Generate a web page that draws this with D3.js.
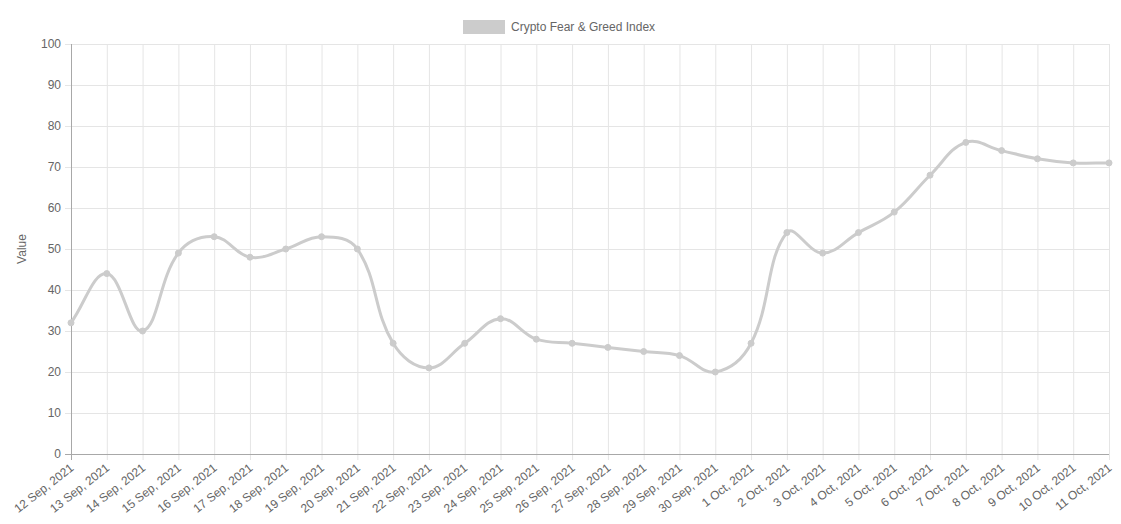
<!DOCTYPE html>
<html><head><meta charset="utf-8">
<script src="https://cdn.jsdelivr.net/npm/d3@7"></script>
<style>body{margin:0;background:#fff}svg{display:block}text{font-family:"Liberation Sans",Arial,Helvetica,sans-serif}</style>
</head><body>
<svg id="c" width="1121" height="524"></svg>
<script>
const dates = ["12 Sep, 2021","13 Sep, 2021","14 Sep, 2021","15 Sep, 2021","16 Sep, 2021","17 Sep, 2021","18 Sep, 2021","19 Sep, 2021","20 Sep, 2021","21 Sep, 2021","22 Sep, 2021","23 Sep, 2021","24 Sep, 2021","25 Sep, 2021","26 Sep, 2021","27 Sep, 2021","28 Sep, 2021","29 Sep, 2021","30 Sep, 2021","1 Oct, 2021","2 Oct, 2021","3 Oct, 2021","4 Oct, 2021","5 Oct, 2021","6 Oct, 2021","7 Oct, 2021","8 Oct, 2021","9 Oct, 2021","10 Oct, 2021","11 Oct, 2021"];
const values = [32,44,30,49,53,48,50,53,50,27,21,27,33,28,27,26,25,24,20,27,54,49,54,59,68,76,74,72,71,71];
const yTicks = [0,10,20,30,40,50,60,70,80,90,100];
const seriesName = "Crypto Fear & Greed Index";
const yTitle = "Value";

const svg = d3.select("#c");
const L = 71, R = 1109, T = 44, B = 454;
const x = d3.scalePoint().domain(dates).range([L, R]);
const y = d3.scaleLinear().domain([0, 100]).range([B, T]);
const grid = "#e5e5e5", axisC = "#a8a8a8", txt = "#666";

// vertical grid
svg.append("g").selectAll("line").data(dates).join("line")
  .attr("x1", d => x(d) + 0.5).attr("x2", d => x(d) + 0.5)
  .attr("y1", T).attr("y2", B + 6)
  .attr("stroke", (d, i) => i === 0 ? axisC : grid).attr("stroke-width", 1);
// horizontal grid
svg.append("g").selectAll("line").data(yTicks).join("line")
  .attr("x1", L - 6).attr("x2", R)
  .attr("y1", d => y(d) + 0.5).attr("y2", d => y(d) + 0.5)
  .attr("stroke", d => d === 0 ? axisC : grid).attr("stroke-width", 1);
// left axis line
svg.append("line").attr("x1", L + 0.5).attr("x2", L + 0.5).attr("y1", T).attr("y2", B + 6).attr("stroke", axisC);

// y labels
svg.append("g").selectAll("text").data(yTicks).join("text")
  .attr("x", L - 10).attr("y", d => y(d)).attr("dy", "0.35em")
  .attr("text-anchor", "end").attr("font-size", 12).attr("fill", txt).text(d => d);

// x labels
const ang = -38;
svg.append("g").selectAll("text").data(dates).join("text")
  .attr("transform", d => `translate(${x(d) + 1},${B + 12}) rotate(${ang})`)
  .attr("text-anchor", "end").attr("dy", "0.35em")
  .attr("font-size", 12).attr("fill", txt).text(d => d);

// y title
svg.append("text").attr("transform", `translate(26,${(T + B) / 2}) rotate(-90)`)
  .attr("text-anchor", "middle").attr("font-size", 12).attr("fill", txt).text(yTitle);

// legend
svg.append("rect").attr("x", 463).attr("y", 20).attr("width", 42).attr("height", 14).attr("fill", "#cccccc");
svg.append("text").attr("x", 511).attr("y", 27).attr("dy", "0.35em").attr("font-size", 12).attr("fill", txt).text(seriesName);

// Chart.js-like spline (tension 0.4)
const pts = values.map((v, i) => [x(dates[i]), y(v)]);
const t = 0.4;
const cps = pts.map((p, i) => {
  const prev = pts[Math.max(0, i - 1)], next = pts[Math.min(pts.length - 1, i + 1)];
  const d01 = Math.hypot(p[0] - prev[0], p[1] - prev[1]);
  const d12 = Math.hypot(next[0] - p[0], next[1] - p[1]);
  let s01 = d01 / (d01 + d12), s12 = d12 / (d01 + d12);
  if (isNaN(s01)) s01 = 0; if (isNaN(s12)) s12 = 0;
  const fa = t * s01, fb = t * s12;
  const cap = (v, lo, hi) => Math.max(lo, Math.min(hi, v));
  return {
    prev: [cap(p[0] - fa * (next[0] - prev[0]), L, R), cap(p[1] - fa * (next[1] - prev[1]), T, B)],
    next: [cap(p[0] + fb * (next[0] - prev[0]), L, R), cap(p[1] + fb * (next[1] - prev[1]), T, B)]
  };
});
const path = d3.path();
path.moveTo(pts[0][0], pts[0][1]);
for (let i = 1; i < pts.length; i++) {
  path.bezierCurveTo(cps[i - 1].next[0], cps[i - 1].next[1], cps[i].prev[0], cps[i].prev[1], pts[i][0], pts[i][1]);
}
svg.append("path").attr("d", path.toString()).attr("fill", "none")
  .attr("stroke", "#cccccc").attr("stroke-width", 3);

svg.append("g").selectAll("circle").data(values).join("circle")
  .attr("cx", (d, i) => x(dates[i])).attr("cy", d => y(d)).attr("r", 3)
  .attr("fill", "#cccccc").attr("stroke", "#cccccc").attr("stroke-width", 1);
</script>
</body></html>
